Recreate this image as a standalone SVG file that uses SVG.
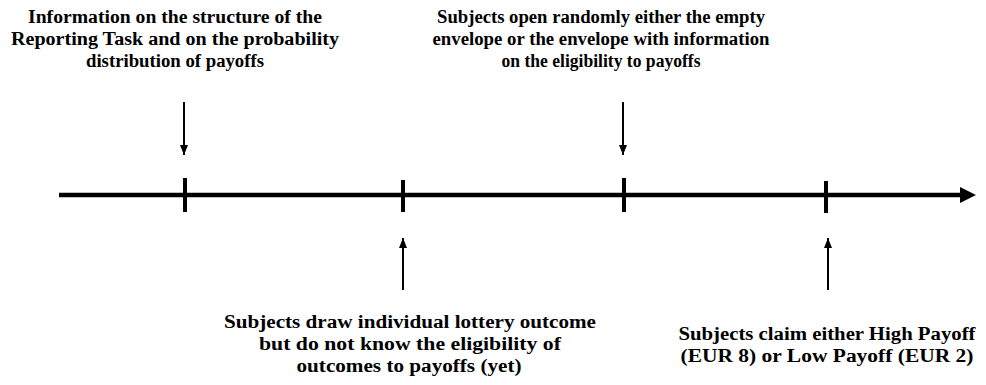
<svg xmlns="http://www.w3.org/2000/svg" width="986" height="385" viewBox="0 0 986 385">
<style>
text{font-family:"Liberation Serif","Times New Roman",serif;font-weight:bold;font-size:18.5px;fill:#000;text-anchor:middle}
.axis{stroke:#000;stroke-width:4.5;fill:none}
.tick{stroke:#000;stroke-width:4;fill:none}
.ptr{stroke:#000;stroke-width:2;fill:none}
</style>
<defs>
<marker id="ah" viewBox="0 0 10 8" refX="10" refY="4" markerWidth="10" markerHeight="8" markerUnits="userSpaceOnUse" orient="auto">
<path d="M0,0 L10,4 L0,8 Z" fill="#000"/>
</marker>
</defs>
<rect width="986" height="385" fill="#fff"/>
<g id="timeline">
<line x1="59" y1="195" x2="962" y2="195" class="axis"/>
<path d="M960,187 L976,195 L960,203 Z" fill="#000"/>
</g>
<g id="event1">
<line x1="185" y1="178" x2="185" y2="212" class="tick"/>
<text x="175" y="23" textLength="294" lengthAdjust="spacingAndGlyphs">Information on the structure of the</text>
<text x="175" y="45" textLength="328" lengthAdjust="spacingAndGlyphs">Reporting Task and on the probability</text>
<text x="175" y="67" textLength="178" lengthAdjust="spacingAndGlyphs">distribution of payoffs</text>
</g>
<g id="event2">
<line x1="403" y1="180" x2="403" y2="212" class="tick"/>
<text x="410" y="328" textLength="372" lengthAdjust="spacingAndGlyphs">Subjects draw individual lottery outcome</text>
<text x="410" y="350" textLength="302" lengthAdjust="spacingAndGlyphs">but do not know the eligibility of</text>
<text x="409" y="372" textLength="225" lengthAdjust="spacingAndGlyphs">outcomes to payoffs (yet)</text>
</g>
<g id="event3">
<line x1="624" y1="178" x2="624" y2="212" class="tick"/>
<text x="601" y="23" textLength="328" lengthAdjust="spacingAndGlyphs">Subjects open randomly either the empty</text>
<text x="601" y="45" textLength="337" lengthAdjust="spacingAndGlyphs">envelope or the envelope with information</text>
<text x="601" y="67" textLength="199" lengthAdjust="spacingAndGlyphs">on the eligibility to payoffs</text>
</g>
<g id="event4">
<line x1="826" y1="181" x2="826" y2="213" class="tick"/>
<text x="827" y="340" textLength="297" lengthAdjust="spacingAndGlyphs">Subjects claim either High Payoff</text>
<text x="827" y="362" textLength="293" lengthAdjust="spacingAndGlyphs">(EUR 8) or Low Payoff (EUR 2)</text>
</g>
<g id="connectors">
<line x1="184" y1="102" x2="184" y2="155" class="ptr" marker-end="url(#ah)"/>
<line x1="623" y1="102" x2="623" y2="155" class="ptr" marker-end="url(#ah)"/>
<line x1="403" y1="290" x2="403" y2="238" class="ptr" marker-end="url(#ah)"/>
<line x1="828" y1="290" x2="828" y2="238" class="ptr" marker-end="url(#ah)"/>
</g>
</svg>
